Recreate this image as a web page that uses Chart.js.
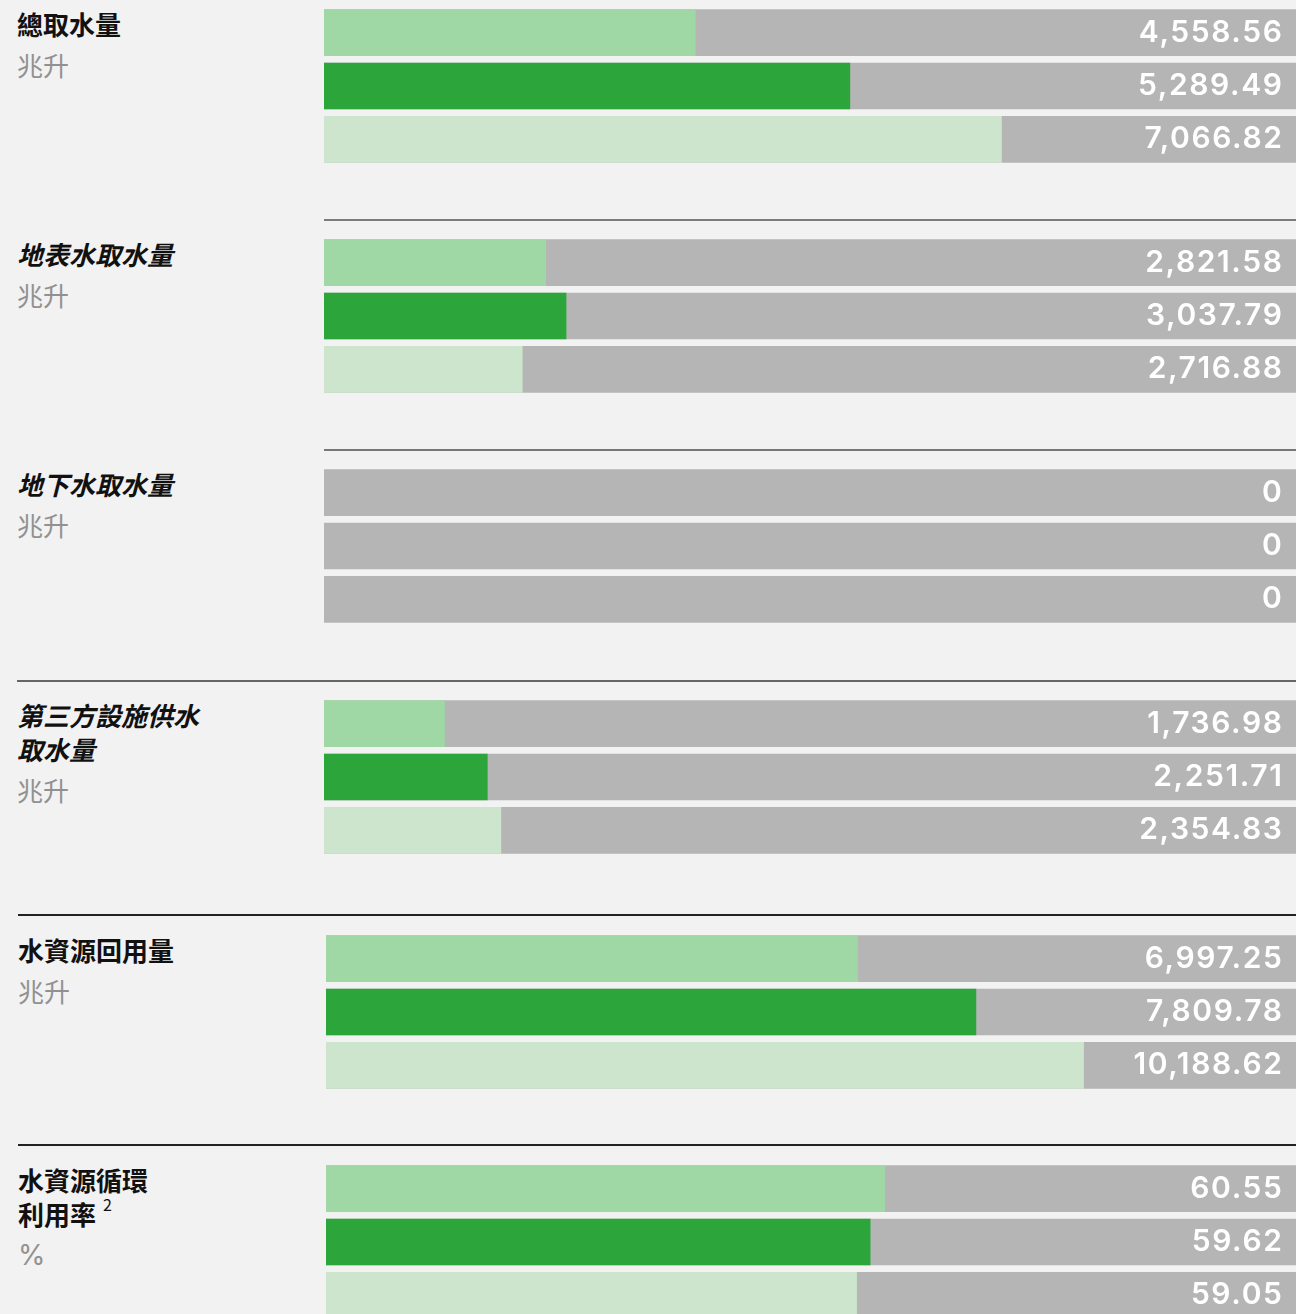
<!DOCTYPE html>
<html>
<head>
<meta charset="utf-8">
<script src="https://cdn.jsdelivr.net/npm/chart.js@4.4.1/dist/chart.umd.min.js"></script>
<style>
  html, body { margin: 0; padding: 0; background: #f1f2f1; }
  body { width: 1296px; height: 1314px; position: relative; overflow: hidden;
         font-family: "Noto Sans CJK TC", "Noto Sans CJK SC", sans-serif; }
  .title { position: absolute; font-size: 26px; font-weight: 600; color: #111; line-height: 34px; white-space: nowrap; }
  .title.it { font-style: italic; }
  .unit { position: absolute; font-size: 26px; font-weight: 400; color: #919191; line-height: 34px; }
  .unit.pct { font-family: Inter, sans-serif; font-size: 28px; font-weight: 400; }
  .sup { font-size: 16px; font-weight: 400; position: relative; top: -14px; margin-left: 7px; line-height: 0; }
  .sep { position: absolute; height: 2px; }
  .wrap { position: absolute; }
</style>
</head>
<body>
<script>
// ---- data ----
const groupTitles = [["總取水量"], ["地表水取水量"], ["地下水取水量"], ["第三方設施供水", "取水量"], ["水資源回用量"], ["水資源循環", "利用率"]];
const groupUnits = ["兆升", "兆升", "兆升", "兆升", "兆升", "%"];
const rowLabels = ["A", "B", "C"];
// displayed values (labels at the right end of each track)
const totalWithdrawal = [4558.56, 5289.49, 7066.82];
const surfaceWater = [2821.58, 3037.79, 2716.88];
const groundWater = [0, 0, 0];
const thirdPartyWater = [1736.98, 2251.71, 2354.83];
const waterRecycled = [6997.25, 7809.78, 10188.62];
const recyclingRate = [60.55, 59.62, 59.05];
// filled length of each bar, as % of the grey track
const totalWithdrawalFill = [38.2, 54.1, 69.7];
const surfaceWaterFill = [22.8, 24.9, 20.4];
const groundWaterFill = [0, 0, 0];
const thirdPartyWaterFill = [12.4, 16.8, 18.2];
const waterRecycledFill = [54.8, 67.0, 78.1];
const recyclingRateFill = [57.6, 56.1, 54.7];
const trackMax = 100;

const groupValues = [totalWithdrawal, surfaceWater, groundWater, thirdPartyWater, waterRecycled, recyclingRate];
const groupFills = [totalWithdrawalFill, surfaceWaterFill, groundWaterFill, thirdPartyWaterFill, waterRecycledFill, recyclingRateFill];

// ---- layout / style ----
const barColors = ["#a0d8a5", "#2ca63a", "#cce5cc"];
const trackColor = "#b4b5b4";
const groupTop = [10, 240, 470, 701, 936, 1166];
const chartLeft = [324, 324, 324, 324, 326, 326];
const titleItalic = [false, true, true, true, false, false];
const titleLeft = [17, 17, 17, 17, 18, 18];
const seps = [
  {y: 219, x: 324, c: "#7b7b7b"},
  {y: 449, x: 324, c: "#777777"},
  {y: 680, x: 17, c: "#666666"},
  {y: 914, x: 18, c: "#222222"},
  {y: 1144, x: 18, c: "#222222"}
];

seps.forEach(s => {
  const d = document.createElement('div');
  d.className = 'sep';
  d.style.top = s.y + 'px'; d.style.left = s.x + 'px';
  d.style.width = (1296 - s.x) + 'px'; d.style.background = s.c;
  document.body.appendChild(d);
});

function fmt(v) {
  if (v === 0) return "0";
  return v.toLocaleString('en-US', {minimumFractionDigits: 2, maximumFractionDigits: 2});
}

const valueLabelPlugin = {
  id: 'valueLabels',
  afterDatasetsDraw(chart, args, opts) {
    const ctx = chart.ctx;
    const meta = chart.getDatasetMeta(1);
    ctx.save();
    ctx.fillStyle = '#ffffff';
    ctx.font = '600 30px Inter';
    ctx.letterSpacing = '1.6px';
    ctx.textAlign = 'right';
    ctx.textBaseline = 'middle';
    meta.data.forEach((bar, i) => {
      ctx.fillText(fmt(opts.values[i]), chart.chartArea.right - 12.5, bar.y);
    });
    ctx.restore();
  }
};

groupTitles.forEach((lines, g) => {
  const top = groupTop[g] - 3;
  const t = document.createElement('div');
  t.className = 'title' + (titleItalic[g] ? ' it' : '');
  t.style.top = top + 'px'; t.style.left = titleLeft[g] + 'px';
  t.innerHTML = lines.join('<br>') + (g === 5 ? '<span class="sup">2</span>' : '');
  document.body.appendChild(t);
  const u = document.createElement('div');
  u.className = 'unit' + (groupUnits[g] === '%' ? ' pct' : '');
  u.style.top = (top + 34 * lines.length + 7) + 'px'; u.style.left = titleLeft[g] + 'px';
  u.textContent = groupUnits[g];
  document.body.appendChild(u);

  const w = document.createElement('div');
  w.className = 'wrap';
  const width = 1296 - chartLeft[g];
  w.style.left = chartLeft[g] + 'px'; w.style.top = (groupTop[g] - 3.67) + 'px';
  w.style.width = width + 'px'; w.style.height = '160px';
  const cv = document.createElement('canvas');
  cv.width = width; cv.height = 160;
  cv.style.width = width + 'px'; cv.style.height = '160px';
  w.appendChild(cv);
  document.body.appendChild(w);

  new Chart(cv, {
    type: 'bar',
    data: {
      labels: rowLabels,
      datasets: [
        { data: groupFills[g].map(v => v === 0 ? null : v), backgroundColor: barColors, barThickness: 46, borderWidth: 0, order: 0 },
        { data: rowLabels.map(() => trackMax), backgroundColor: trackColor, barThickness: 46, borderWidth: 0, order: 1 }
      ]
    },
    options: {
      indexAxis: 'y',
      responsive: false,
      animation: false,
      devicePixelRatio: 1,
      layout: { padding: 0 },
      scales: {
        x: { display: false, min: 0, max: trackMax, stacked: false },
        y: { display: false, stacked: false, grid: { display: false } }
      },
      datasets: { bar: { grouped: false } },
      plugins: { legend: { display: false }, tooltip: { enabled: false }, valueLabels: { values: groupValues[g] } }
    },
    plugins: [valueLabelPlugin]
  });
});
</script>
</body>
</html>
